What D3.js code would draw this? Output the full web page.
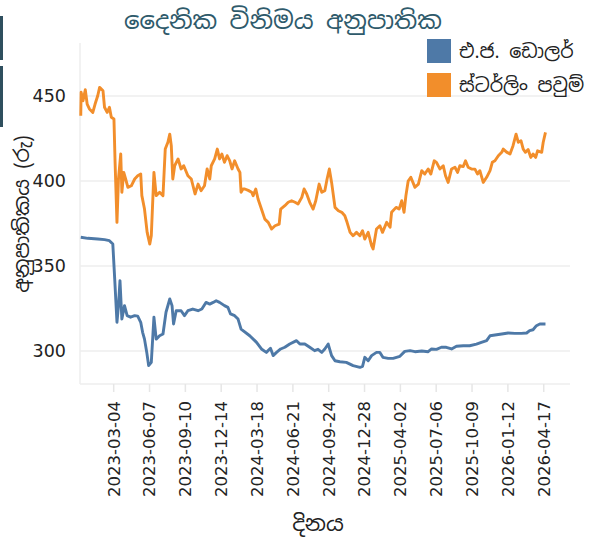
<!DOCTYPE html>
<html><head><meta charset="utf-8">
<script src="https://cdn.jsdelivr.net/npm/d3@7"></script>
<style>body{margin:0;background:#fff} svg{display:block}</style>
</head><body><svg id="c" width="592" height="539"></svg>
<script>
const chartTitle = "දෛනික විනිමය අනුපාතික";
const xTitle = "දිනය";
const yTitle = "අනුපාතිකය (රු)";
const seriesNames = ["එ.ජ. ඩොලර්", "ස්ටර්ලිං පවුම්"];
const seriesColors = ["#4e79a7", "#f28e2b"];
const xTickLabels = ["2023-03-04","2023-06-07","2023-09-10","2023-12-14","2024-03-18","2024-06-21","2024-09-24","2024-12-28","2025-04-02","2025-07-06","2025-10-09","2026-01-12","2026-04-17"];
const yTickValues = [300, 350, 400, 450];

const usd = [
["2022-12-08",366.9],["2022-12-27",366.3],["2023-01-22",365.9],["2023-02-09",365.5],["2023-02-22",364.9],["2023-03-03",362.9],
["2023-03-08",342.4],["2023-03-14",316.9],["2023-03-18",326.7],["2023-03-22",341.4],["2023-03-27",318.8],["2023-04-03",326.7],
["2023-04-10",320.8],["2023-04-19",319.9],["2023-04-30",320.8],["2023-05-08",320.5],["2023-05-16",316.9],["2023-05-21",311],
["2023-05-26",307],["2023-06-01",299.2],["2023-06-06",291.4],["2023-06-13",293.3],["2023-06-20",319.9],["2023-06-26",307],
["2023-07-05",309],["2023-07-14",310],["2023-07-22",322.8],["2023-08-01",330.6],["2023-08-07",326.7],["2023-08-11",315.9],
["2023-08-18",323.7],["2023-08-31",323.7],["2023-09-09",320.8],["2023-09-18",323.7],["2023-10-01",324.7],["2023-10-15",323.7],
["2023-10-25",324.7],["2023-11-05",328.6],["2023-11-15",327.6],["2023-11-24",328.6],["2023-12-02",329.6],["2023-12-11",328.6],
["2023-12-24",326.7],["2024-01-02",325.7],["2024-01-09",321.8],["2024-01-20",320.8],["2024-01-29",318.8],["2024-02-06",312.9],
["2024-02-29",309],["2024-03-18",305.1],["2024-03-31",301.2],["2024-04-13",299.2],["2024-04-24",301.6],["2024-05-01",297.3],
["2024-05-10",299.2],["2024-05-21",301.2],["2024-06-01",302.2],["2024-06-14",304.1],["2024-07-02",306.1],["2024-07-11",304.1],
["2024-07-24",304.1],["2024-08-06",302.2],["2024-08-19",300.2],["2024-08-28",301],["2024-09-07",299.2],["2024-09-15",301.2],
["2024-09-24",304.1],["2024-10-03",297.3],["2024-10-12",294.3],["2024-10-25",293.7],["2024-11-11",293.3],["2024-11-29",291.4],
["2024-12-17",290.4],["2024-12-24",291],["2024-12-30",296.3],["2025-01-08",294.3],["2025-01-17",297.3],["2025-01-30",299.2],
["2025-02-08",299.2],["2025-02-16",296.3],["2025-03-02",295.7],["2025-03-15",295.7],["2025-04-02",296.9],["2025-04-15",299.8],
["2025-04-29",300.2],["2025-05-12",299.6],["2025-05-30",300],["2025-06-16",299.6],["2025-06-25",301.2],["2025-07-08",301],
["2025-07-21",302.2],["2025-08-03",302.2],["2025-08-17",301.2],["2025-08-30",302.8],["2025-09-17",303.1],["2025-10-04",303.1],
["2025-10-22",304.1],["2025-11-04",305.1],["2025-11-18",306.1],["2025-11-27",309],["2025-12-10",309.4],["2025-12-28",310],
["2026-01-14",310.6],["2026-02-01",310.4],["2026-02-18",310.4],["2026-03-04",310.6],["2026-03-12",312],["2026-03-21",312.5],
["2026-03-30",314.9],["2026-04-08",315.9],["2026-04-23",315.9]
];

const gbp = [
["2022-12-08",438.4],["2022-12-09",452.2],["2022-12-14",447.2],["2022-12-20",453.7],["2022-12-25",445.3],["2022-12-31",442.4],
["2023-01-09",440.4],["2023-01-15",445.3],["2023-01-22",450.2],["2023-01-27",455.1],["2023-02-05",453.1],["2023-02-09",443.4],
["2023-02-16",440.4],["2023-02-22",443.4],["2023-02-27",437.5],["2023-03-06",436.5],["2023-03-09",411],["2023-03-14",375.7],
["2023-03-18",401.2],["2023-03-24",415.9],["2023-03-27",393.4],["2023-04-01",405.1],["2023-04-06",401.2],["2023-04-12",396.3],
["2023-04-21",397.2],["2023-04-30",401.2],["2023-05-08",403.1],["2023-05-16",404.1],["2023-05-19",391.4],["2023-05-26",383.5],
["2023-06-02",369.8],["2023-06-09",362.9],["2023-06-13",367.8],["2023-06-20",405.1],["2023-06-26",391.4],["2023-07-05",393.4],
["2023-07-14",391.4],["2023-07-20",418.8],["2023-07-27",422.8],["2023-08-01",427.6],["2023-08-05",420.8],["2023-08-09",401.2],
["2023-08-14",409],["2023-08-23",413],["2023-08-31",407.1],["2023-09-07",409],["2023-09-18",403.1],["2023-09-27",401.2],
["2023-10-07",392.4],["2023-10-15",398.2],["2023-10-23",394.3],["2023-11-01",397.2],["2023-11-08",407.1],["2023-11-15",401.2],
["2023-11-19",409],["2023-11-28",413],["2023-12-05",418.8],["2023-12-11",413],["2023-12-17",415.9],["2023-12-24",411],
["2023-12-31",414.9],["2024-01-07",411.9],["2024-01-13",407.1],["2024-01-20",411.9],["2024-01-29",407.1],["2024-02-03",405.1],
["2024-02-06",393.4],["2024-02-11",395.3],["2024-02-16",395.3],["2024-02-25",394.5],["2024-03-05",393.4],["2024-03-09",391.4],
["2024-03-16",395.3],["2024-03-22",389.4],["2024-03-31",383.5],["2024-04-09",377.6],["2024-04-18",375.7],["2024-04-27",371.8],
["2024-05-06",373.7],["2024-05-17",374.7],["2024-05-21",383.5],["2024-06-01",385.5],["2024-06-10",387.5],["2024-06-19",388.4],
["2024-06-28",387.5],["2024-07-06",386.5],["2024-07-16",390.4],["2024-07-22",395.3],["2024-07-29",392.4],["2024-08-06",387.5],
["2024-08-15",383.5],["2024-08-22",388.4],["2024-08-31",398.2],["2024-09-07",393.4],["2024-09-15",394.3],["2024-09-21",401.2],
["2024-09-27",407.1],["2024-10-03",399.2],["2024-10-12",384.5],["2024-10-21",382.5],["2024-10-30",381.6],["2024-11-07",379.6],
["2024-11-13",375.7],["2024-11-21",369.8],["2024-11-29",367.8],["2024-12-08",369.8],["2024-12-17",367.8],["2024-12-24",370.8],
["2024-12-30",365.9],["2025-01-08",369.8],["2025-01-17",362],["2025-01-21",360],["2025-01-30",371.8],["2025-02-08",373.7],
["2025-02-15",369.8],["2025-02-26",375.7],["2025-03-07",372.8],["2025-03-11",381.6],["2025-03-23",384.5],["2025-03-31",383.5],
["2025-04-07",388.4],["2025-04-13",381.6],["2025-04-18",391.4],["2025-04-24",400],["2025-05-01",402.2],["2025-05-12",396.3],
["2025-05-21",398.2],["2025-05-30",406.1],["2025-06-07",404.1],["2025-06-16",407.1],["2025-06-23",404.1],["2025-07-02",411.9],
["2025-07-08",411],["2025-07-17",407.1],["2025-07-26",409],["2025-08-01",403.1],["2025-08-08",399.2],["2025-08-17",407.1],
["2025-08-26",408.1],["2025-09-02",405.1],["2025-09-08",409],["2025-09-17",408.5],["2025-09-23",411.9],["2025-09-30",408.1],
["2025-10-09",407.1],["2025-10-18",407],["2025-10-25",404.1],["2025-10-31",406.1],["2025-11-09",399.2],["2025-11-18",402.2],
["2025-11-27",406.1],["2025-12-03",411],["2025-12-10",411.9],["2025-12-19",414.9],["2025-12-28",416.9],["2026-01-01",418.8],
["2026-01-10",417],["2026-01-19",415.9],["2026-01-27",420.8],["2026-02-04",427.6],["2026-02-10",422.8],["2026-02-17",423.7],
["2026-02-23",418.8],["2026-03-01",416.9],["2026-03-08",418.5],["2026-03-15",413.9],["2026-03-21",415.9],["2026-03-28",413.9],
["2026-04-02",417.8],["2026-04-13",416.9],["2026-04-17",422.8],["2026-04-23",428.6]
];

const FONT = "'Noto Sans Sinhala','Iskoola Pota','DejaVu Sans',sans-serif";
const svg = d3.select("#c");
const parse = d3.utcParse("%Y-%m-%d");
const L = 80, R = 570, T = 43, B = 384;

const x = d3.scaleUtc().domain([parse("2022-12-06"), parse("2026-06-27")]).range([L, R]);
const y = d3.scaleLinear().domain([280.6, 481.2]).range([B, T]);

// decorative left-edge bars
svg.append("rect").attr("x",0).attr("y",16).attr("width",3).attr("height",44).attr("fill","#2f4f5e");
svg.append("rect").attr("x",0).attr("y",66).attr("width",3).attr("height",61).attr("fill","#2f4f5e");

// gridlines
svg.append("g").selectAll("line").data(yTickValues).join("line")
  .attr("x1", L).attr("x2", R).attr("y1", d => y(d)).attr("y2", d => y(d))
  .attr("stroke", "#eeeeee").attr("stroke-width", 1.5);
// frame left/bottom
svg.append("line").attr("x1",L).attr("x2",L).attr("y1",T).attr("y2",B).attr("stroke","#eeeeee").attr("stroke-width",1.5);
svg.append("line").attr("x1",L).attr("x2",R).attr("y1",B).attr("y2",B).attr("stroke","#eeeeee").attr("stroke-width",1.5);

// x axis
const xa = svg.append("g").attr("transform", `translate(0,${B})`)
  .call(d3.axisBottom(x).tickValues(xTickLabels.map(parse)).tickSize(8).tickFormat(d3.utcFormat("%Y-%m-%d")));
xa.select(".domain").remove();
xa.selectAll(".tick line").attr("stroke", "#e6e6e6").attr("stroke-width", 1.5);
xa.selectAll(".tick text")
  .attr("transform", "rotate(-90)").attr("x", -17).attr("y", 0).attr("dy", "0.36em")
  .style("text-anchor", "end").style("font-family", "'DejaVu Sans',sans-serif").style("font-size", "16.5px").attr("fill", "#222");

// y axis
const ya = svg.append("g").attr("transform", `translate(${L},0)`)
  .call(d3.axisLeft(y).tickValues(yTickValues).tickSize(0).tickPadding(14));
ya.select(".domain").remove();
ya.selectAll(".tick text").style("font-family", "'DejaVu Sans',sans-serif").style("font-size", "17.5px").attr("fill", "#222");

// lines
const line = d3.line().x(d => x(parse(d[0]))).y(d => y(d[1]));
[usd, gbp].forEach((s, i) => {
  svg.append("path").datum(s).attr("d", line).attr("fill", "none")
    .attr("stroke", seriesColors[i]).attr("stroke-width", 2.9).attr("stroke-linejoin", "round");
});

// title
svg.append("text").attr("x", 283).attr("y", 29).attr("text-anchor", "middle")
  .style("font-family", FONT).style("font-size", "24.5px").attr("fill", "#2e5a6b").text(chartTitle);

// axis titles
svg.append("text").attr("x", 318).attr("y", 531).attr("text-anchor", "middle")
  .style("font-family", FONT).style("font-size", "22px").attr("fill", "#222").text(xTitle);
svg.append("text").attr("transform", "translate(29,214) rotate(-90)").attr("text-anchor", "middle")
  .style("font-family", FONT).style("font-size", "20.5px").attr("fill", "#222").text(yTitle);

// legend
const lg = svg.append("g").selectAll("g").data(seriesNames).join("g")
  .attr("transform", (d, i) => `translate(427,${39 + i * 34})`);
lg.append("rect").attr("width", 24).attr("height", 24).attr("fill", (d, i) => seriesColors[i]);
lg.append("text").attr("x", 32).attr("y", 12).attr("dy", "0.35em")
  .style("font-family", FONT).style("font-size", "19px").attr("fill", "#222").text(d => d);
</script></body></html>
